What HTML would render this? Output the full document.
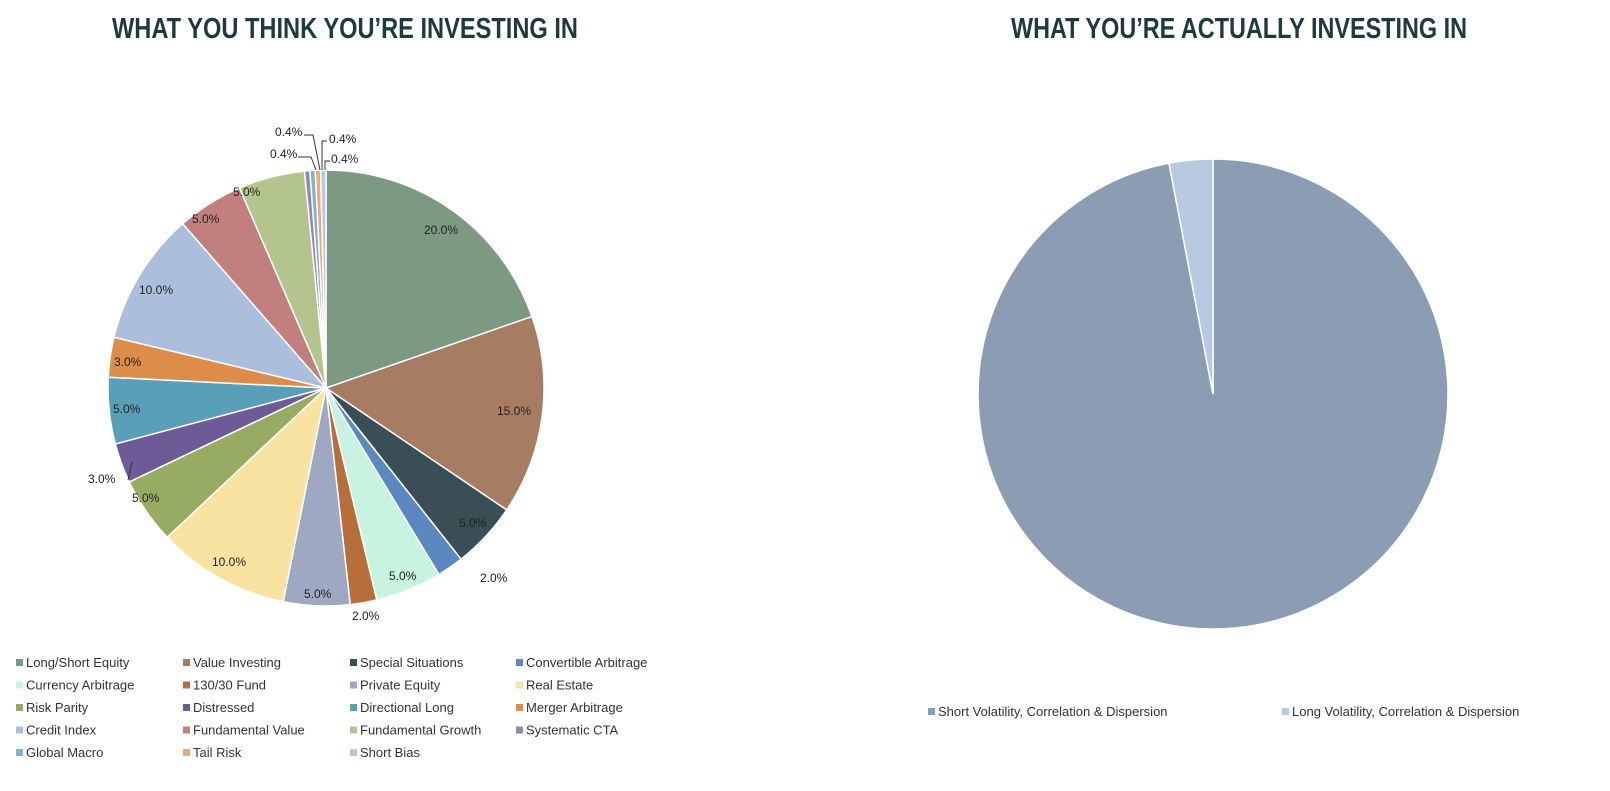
<!DOCTYPE html>
<html><head><meta charset="utf-8"><style>
html,body{margin:0;padding:0;background:#fff;}
svg{display:block;}
text{font-family:"Liberation Sans",sans-serif;}
.t{font-family:"Liberation Sans Narrow","Liberation Sans",sans-serif;font-weight:bold;fill:#1d3a3c;font-size:29px;}
.l{font-size:13px;fill:#333;}
.p{font-size:12px;fill:#222;}
</style></head><body>
<svg id="s" width="1610" height="791" xmlns="http://www.w3.org/2000/svg">
<text class="t" x="112" y="38" textLength="466" lengthAdjust="spacingAndGlyphs">WHAT YOU THINK YOU’RE INVESTING IN</text>
<text class="t" x="1011" y="38" textLength="456" lengthAdjust="spacingAndGlyphs">WHAT YOU’RE ACTUALLY INVESTING IN</text>
<g id="pies"></g>
<g class="p">
<text x="424" y="234">20.0%</text>
<text x="497" y="415">15.0%</text>
<text x="459" y="527">5.0%</text>
<text x="480" y="582">2.0%</text>
<text x="389" y="580">5.0%</text>
<text x="352" y="620">2.0%</text>
<text x="304" y="598">5.0%</text>
<text x="212" y="566">10.0%</text>
<text x="132" y="502">5.0%</text>
<text x="88" y="483">3.0%</text>
<text x="113" y="413">5.0%</text>
<text x="114" y="366">3.0%</text>
<text x="139" y="294">10.0%</text>
<text x="192" y="223">5.0%</text>
<text x="233" y="196">5.0%</text>
<text x="270" y="158">0.4%</text>
<text x="275" y="136">0.4%</text>
<text x="329" y="143">0.4%</text>
<text x="331" y="163">0.4%</text>
</g>
<g fill="none" stroke="#333" stroke-width="1">
<polyline points="298,157 311,157 316,170"/>
<polyline points="304,135 313,135 320,170"/>
<polyline points="327,141 322,141 322,170"/>
<polyline points="330,161 325,161 325,170"/>
<polyline points="128,480 132,462"/>
</g>
<g id="leg" class="l"></g>
</svg>
<script>
var NS="http://www.w3.org/2000/svg";
var d=[["Long/Short Equity",20,"#7b9a81"],["Value Investing",15,"#a67c63"],["Special Situations",5,"#3a4f55"],["Convertible Arbitrage",2,"#5b88c0"],["Currency Arbitrage",5,"#c8f3e0"],["130/30 Fund",2,"#b86e3a"],["Private Equity",5,"#9ea8c2"],["Real Estate",10,"#f9e3a3"],["Risk Parity",5,"#97ab62"],["Distressed",3,"#6e5a96"],["Directional Long",5,"#5a9fb8"],["Merger Arbitrage",3,"#de8c4a"],["Credit Index",10,"#abbfdd"],["Fundamental Value",5,"#c17f7e"],["Fundamental Growth",5,"#b3c58c"],["Systematic CTA",0.4,"#9486b8"],["Global Macro",0.4,"#7fb2cf"],["Tail Risk",0.4,"#f0a67c"],["Short Bias",0.4,"#b9c6dc"]];
function pie(cx,cy,r,data){var tot=0;data.forEach(function(e){tot+=e[1]});var a=0;var g=document.getElementById("pies");
data.forEach(function(e){var a2=a+e[1]/tot*2*Math.PI;var x1=cx+r*Math.sin(a),y1=cy-r*Math.cos(a),x2=cx+r*Math.sin(a2),y2=cy-r*Math.cos(a2);
var p=document.createElementNS(NS,"path");p.setAttribute("d","M"+cx+","+cy+"L"+x1+","+y1+"A"+r+","+r+" 0 "+((a2-a)>Math.PI?1:0)+" 1 "+x2+","+y2+"Z");p.setAttribute("fill",e[2]);p.setAttribute("stroke","#fff");p.setAttribute("stroke-width","1.5");g.appendChild(p);a=a2;});}
pie(326,388,218,d);
pie(1213,394,235,[["s",97,"#8a9db3"],["l",3,"#b9c9e1"]]);
var L=document.getElementById("leg");
function item(x,y,c,t){var r=document.createElementNS(NS,"rect");r.setAttribute("x",x);r.setAttribute("y",y-8);r.setAttribute("width",7);r.setAttribute("height",7);r.setAttribute("fill",c);L.appendChild(r);
var tx=document.createElementNS(NS,"text");tx.setAttribute("x",x+10);tx.setAttribute("y",y);tx.textContent=t;L.appendChild(tx);}
var cols=[16,183,350,516];
d.forEach(function(e,i){item(cols[i%4],667+Math.floor(i/4)*22.5,e[2],e[0]);});
item(928,716,"#8a9db3","Short Volatility, Correlation & Dispersion");
item(1282,716,"#b9c9e1","Long Volatility, Correlation & Dispersion");
</script>
</body></html>
